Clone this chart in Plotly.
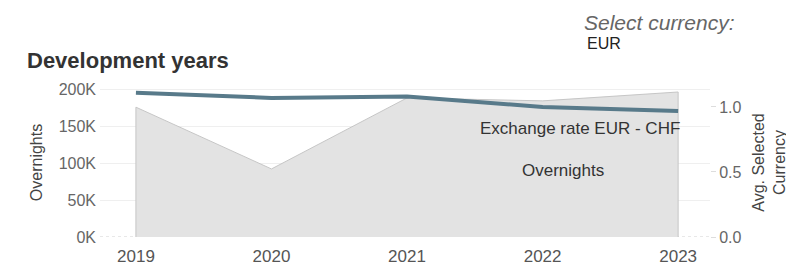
import plotly.graph_objects as go

years = [2019, 2020, 2021, 2022, 2023]
overnights = [175500, 92000, 188000, 184000, 196000]
exchange_rate = [1.11, 1.07, 1.08, 1.00, 0.97]
left_ticks = [0, 50000, 100000, 150000, 200000]
left_ticktext = ["0K", "50K", "100K", "150K", "200K"]
right_ticks = [0.0, 0.5, 1.0]

FONT = "Liberation Sans, Arial, sans-serif"
# the page body adds an 8px offset; the figure is sized to fill the rest of the window
OFF = 8
W, H = 794 - OFF, 265 - OFF
L, R, T, B = 100 - OFF, 794 - 710, 88 - OFF, 265 - 237
PW, PH = W - L - R, H - T - B


def px(x):
    return (x - OFF - L) / PW


def py(y):
    return (H - B - (y - OFF)) / PH


fig = go.Figure()
# closed area so the left/right edges are stroked like the reference
fig.add_trace(go.Scatter(
    x=[years[0]] + years + [years[-1]], y=[0] + overnights + [0],
    mode="lines", fill="toself",
    fillcolor="#e3e3e3", line=dict(color="#c6c6c6", width=1),
    name="Overnights", yaxis="y", showlegend=False, hoverinfo="skip"))
fig.add_trace(go.Scatter(
    x=years, y=exchange_rate, mode="lines",
    line=dict(color="#587a8a", width=4),
    name="Exchange rate EUR - CHF", yaxis="y2", showlegend=False, hoverinfo="skip"))


def ann(text, x, y, size, color, xanchor="left"):
    return dict(text=text, x=px(x), y=py(y), xref="paper", yref="paper",
                showarrow=False, xanchor=xanchor, yanchor="middle",
                font=dict(size=size, color=color, family=FONT))


fig.update_layout(
    width=W, height=H,
    margin=dict(l=L, r=R, t=T, b=B, autoexpand=False),
    paper_bgcolor="white", plot_bgcolor="white",
    font=dict(family=FONT, color="#555555", size=15),
    xaxis=dict(range=[2018.735, 2023.235], tickvals=years, ticktext=[str(y) for y in years],
               showgrid=False, zeroline=False, showline=False, automargin=False,
               tickfont=dict(size=17, color="#555555"), ticks="", ticklabelstandoff=7),
    yaxis=dict(range=[0, 201400], tickvals=left_ticks, ticktext=left_ticktext,
               showgrid=True, gridcolor="#efefef", gridwidth=1, zeroline=False, automargin=False,
               tickfont=dict(size=16, color="#666666"), ticks="", ticklabelstandoff=3,
               title=dict(text="Overnights", font=dict(size=16, color="#444444"), standoff=12)),
    yaxis2=dict(range=[0, 1.146], tickvals=right_ticks, ticktext=["0.0", "0.5", "1.0"],
                overlaying="y", side="right", showgrid=False, zeroline=False, automargin=False,
                ticks="outside", ticklen=5, tickcolor="#dddddd",
                tickfont=dict(size=16, color="#666666"),
                title=dict(text="Avg. Selected<br>Currency", font=dict(size=16, color="#444444"), standoff=12)),
    shapes=[dict(type="line", xref="paper", yref="y", x0=0, x1=1, y0=0, y1=0,
                 layer="below", line=dict(color="#d0d0d0", width=1, dash="dot"))],
    annotations=[
        ann("<b>Development years</b>", 25, 61, 22, "#333333"),
        ann("<i>Select currency:</i>", 582, 22, 21, "#666666"),
        ann("EUR", 585, 43, 16, "#222222"),
        ann("Exchange rate EUR - CHF", 580, 128, 17, "#333333", "center"),
        ann("Overnights", 563, 170, 17, "#333333", "center"),
    ],
)

fig.write_html("out.html")
